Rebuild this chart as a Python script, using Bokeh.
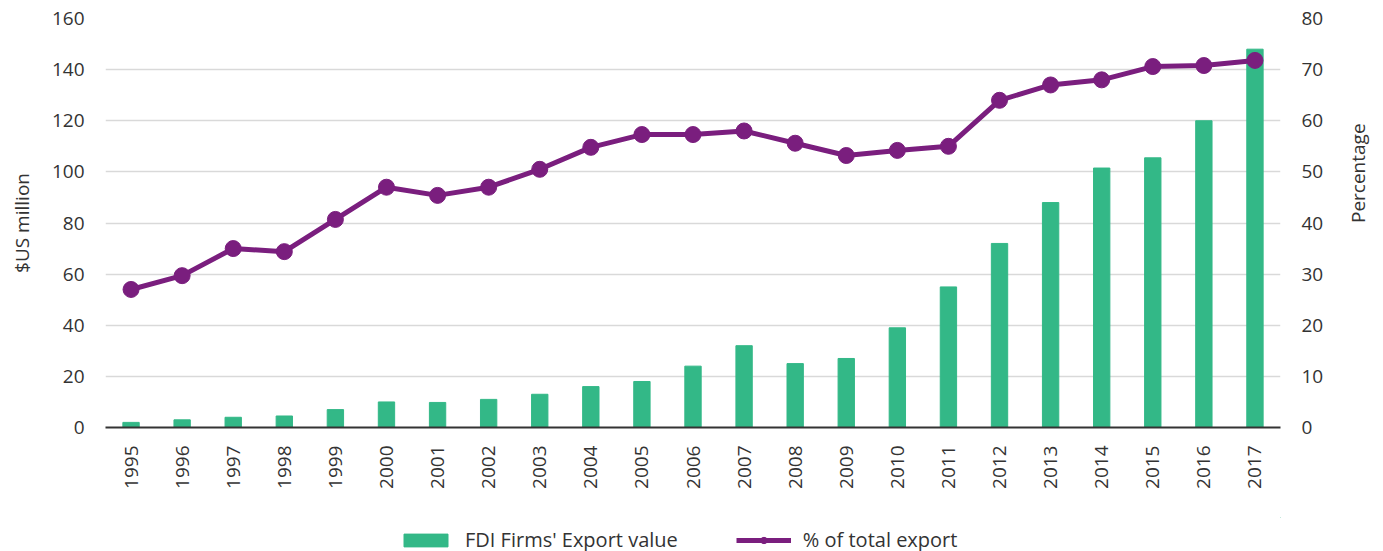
import math
from bokeh.plotting import figure
from bokeh.layouts import column
from bokeh.models import Range1d, LinearAxis, Legend, LegendItem, SingleIntervalTicker, ColumnDataSource
from bokeh.embed import file_html
from bokeh.resources import INLINE

years = [str(y) for y in range(1995, 2018)]
export_value = [2, 3, 4, 4.5, 7, 10, 9.8, 11, 13, 16, 18, 24, 32, 25, 27, 39, 55, 72, 88, 101.5, 105.5, 120, 148]
pct_total = [27.0, 29.7, 35.0, 34.4, 40.7, 47.0, 45.4, 47.0, 50.5, 54.8, 57.3, 57.3, 58.0, 55.6, 53.2, 54.2, 55.0, 64.0, 67.0, 68.0, 70.6, 70.8, 71.8]
series_names = ["FDI Firms' Export value", "% of total export"]

FONT = "Open Sans"
TXT = "#333333"
GREEN = "#33b887"
PURPLE = "#7a1e7e"

src = ColumnDataSource(dict(year=years, value=export_value, pct=pct_total))

p = figure(x_range=years, y_range=Range1d(0, 160), frame_width=1175, frame_height=409,
           output_backend="svg", toolbar_location=None,
           min_border_left=105, min_border_right=100, min_border_top=18, min_border_bottom=90)
p.outline_line_color = None
p.extra_y_ranges = {"pct": Range1d(0, 80)}

bars = p.vbar(x="year", top="value", width=0.32, source=src, fill_color=GREEN, line_color=GREEN)
line = p.line(x="year", y="pct", source=src, y_range_name="pct", line_color=PURPLE, line_width=5)
dots = p.scatter(x="year", y="pct", source=src, y_range_name="pct", size=16, fill_color=PURPLE, line_color=PURPLE)

p.xgrid.grid_line_color = None
p.ygrid.grid_line_color = "#d9d9d9"
p.ygrid.grid_line_width = 1.5
p.ygrid.ticker = SingleIntervalTicker(interval=20)

p.yaxis.ticker = SingleIntervalTicker(interval=20)
p.yaxis.axis_label = "$US million"

right = LinearAxis(y_range_name="pct", ticker=SingleIntervalTicker(interval=10), axis_label="Percentage")
p.add_layout(right, "right")

for ax in [p.yaxis[0], right]:
    ax.axis_line_color = None
    ax.major_tick_line_color = None
    ax.minor_tick_line_color = None
    ax.major_tick_out = 0
    ax.minor_tick_out = 0
    ax.major_label_standoff = 21
p.yaxis[0].axis_label_standoff = 14
right.axis_label_standoff = 32
right.axis_label_orientation = math.pi / 2

for ax in [p.yaxis[0], right, p.xaxis[0]]:
    ax.major_label_text_font = FONT
    ax.major_label_text_font_size = "19px"
    ax.major_label_text_color = TXT
    ax.axis_label_text_font = FONT
    ax.axis_label_text_font_size = "19px"
    ax.axis_label_text_font_style = "normal"
    ax.axis_label_text_color = TXT

xa = p.xaxis[0]
xa.axis_line_color = "#333333"
xa.axis_line_width = 2
xa.major_tick_line_color = None
xa.minor_tick_line_color = None
xa.major_tick_out = 0
xa.minor_tick_out = 0
xa.major_label_orientation = math.pi / 2
xa.major_label_standoff = 18

# legend strip below the chart, using the same glyph styles (proxy glyphs lie outside the strip's range)
p2 = figure(x_range=Range1d(0, 1), y_range=Range1d(0, 1), frame_width=1175, frame_height=40,
            output_backend="svg", toolbar_location=None,
            min_border_left=105, min_border_right=100, min_border_top=0, min_border_bottom=0)
p2.axis.visible = False
p2.grid.grid_line_color = None
p2.outline_line_color = None
lb = p2.vbar(x=[5], top=[6], bottom=[5], width=0.1, fill_color=GREEN, line_color=GREEN)
ll = p2.line(x=[5, 6], y=[5, 5], line_color=PURPLE, line_width=5)
ld = p2.scatter(x=[5], y=[5], size=16, fill_color=PURPLE, line_color=PURPLE)

legend = Legend(items=[LegendItem(label=series_names[0], renderers=[lb]),
                       LegendItem(label=series_names[1], renderers=[ll, ld])],
                orientation="horizontal", location=(293, 4))
legend.label_text_font = FONT
legend.label_text_font_size = "20px"
legend.label_text_color = TXT
legend.glyph_width = 55
legend.glyph_height = 16
legend.label_standoff = 12
legend.spacing = 58
legend.border_line_color = None
legend.background_fill_alpha = 0
legend.margin = 0
legend.padding = 4
p2.add_layout(legend, "center")

layout = column(p, p2, spacing=0)
open("out.html", "w").write(file_html(layout, INLINE))
